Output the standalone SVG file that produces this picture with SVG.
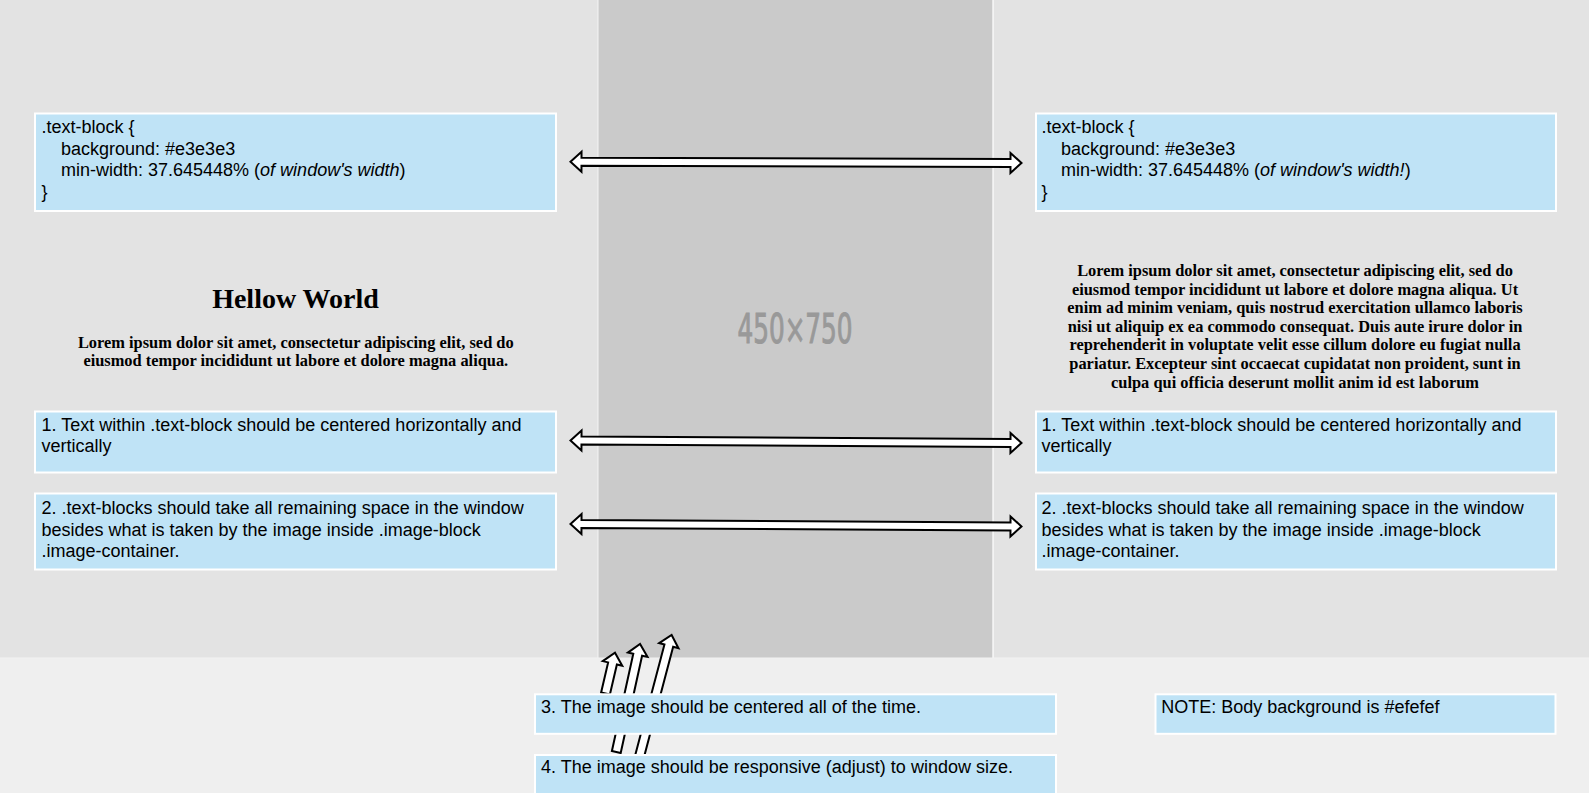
<svg xmlns="http://www.w3.org/2000/svg" width="1589" height="793" viewBox="0 0 1589 793">
<style>
.box{fill:#bfe3f6;stroke:#ffffff;stroke-width:2}
.t{font-family:"Liberation Sans",Arial,sans-serif;font-size:18px;fill:#000}
.s{font-family:"Liberation Serif","Times New Roman",serif;font-weight:bold;fill:#000;text-anchor:middle}
.lorem{font-size:16.4px}
.arr{fill:#ffffff;stroke:#000;stroke-width:2;stroke-linejoin:miter}
</style>
<defs>
<polygon id="dbl" points="0,0 11,-10 11,-4 440,-4 440,-10 451,0 440,10 440,4 11,4 11,10"/>
</defs>
<!-- backgrounds -->
<rect x="0" y="0" width="1589" height="793" fill="#efefef"/>
<rect x="0" y="0" width="598" height="658" fill="#e3e3e3"/>
<rect x="598" y="0" width="395" height="658" fill="#cacaca"/>
<rect x="993" y="0" width="596" height="658" fill="#e3e3e3"/>
<line x1="598" y1="0" x2="598" y2="658" stroke="#f4f4f4" stroke-width="1"/>
<line x1="993" y1="0" x2="993" y2="658" stroke="#ffffff" stroke-width="1.2"/>
<line x1="0" y1="658" x2="1589" y2="658" stroke="#f2f2f2" stroke-width="1"/>
<text x="795" y="342.7" font-family="'DejaVu Sans Condensed','DejaVu Sans',sans-serif" font-size="40" fill="#999999" stroke="#999999" stroke-width="1" text-anchor="middle" textLength="115" lengthAdjust="spacingAndGlyphs">450×750</text>

<g id="content-left">
<text class="s" x="295.5" y="308.3" font-size="28">Hellow World</text>
<text class="s lorem" x="295.8" y="347.5">Lorem ipsum dolor sit amet, consectetur adipiscing elit, sed do</text>
<text class="s lorem" x="295.8" y="366.3">eiusmod tempor incididunt ut labore et dolore magna aliqua.</text>
</g>
<g id="content-right">
<text class="s lorem" x="1295" y="276">Lorem ipsum dolor sit amet, consectetur adipiscing elit, sed do</text>
<text class="s lorem" x="1295" y="294.6">eiusmod tempor incididunt ut labore et dolore magna aliqua. Ut</text>
<text class="s lorem" x="1295" y="313.2">enim ad minim veniam, quis nostrud exercitation ullamco laboris</text>
<text class="s lorem" x="1295" y="331.8">nisi ut aliquip ex ea commodo consequat. Duis aute irure dolor in</text>
<text class="s lorem" x="1295" y="350.4">reprehenderit in voluptate velit esse cillum dolore eu fugiat nulla</text>
<text class="s lorem" x="1295" y="369">pariatur. Excepteur sint occaecat cupidatat non proident, sunt in</text>
<text class="s lorem" x="1295" y="387.6">culpa qui officia deserunt mollit anim id est laborum</text>
</g>

<g id="connectors">
<use href="#dbl" class="arr" transform="translate(570.5,161.7) rotate(0.165)"/>
<use href="#dbl" class="arr" transform="translate(570.5,440.5) rotate(0.318)"/>
<use href="#dbl" class="arr" transform="translate(570.5,524) rotate(0.318)"/>
<polygon class="arr" points="0,-4.5 30.9,-4.5 30.9,-10 41.9,0 30.9,10 30.9,4.5 0,4.5" transform="translate(605.5,693.5) rotate(-76.9)"/>
<polygon class="arr" points="0,-4.5 99.6,-4.5 99.6,-10 110.6,0 99.6,10 99.6,4.5 0,4.5" transform="translate(616.3,752) rotate(-77.6)"/>
<polygon class="arr" points="0,-4.5 139,-4.5 139,-10 150,0 139,10 139,4.5 0,4.5" transform="translate(633.3,780) rotate(-75.2)"/>
</g>

<g id="css-left">
<rect class="box" x="35" y="113.5" width="521" height="97.5"/>
<text class="t" x="41.5" y="133">.text-block {</text>
<text class="t" x="61" y="154.6">background: #e3e3e3</text>
<text class="t" x="61" y="176.2">min-width: 37.645448% (<tspan font-style="italic">of window's width</tspan>)</text>
<text class="t" x="41.5" y="197.8">}</text>
</g>
<g id="css-right">
<rect class="box" x="1036" y="113.5" width="520" height="97.5"/>
<text class="t" x="1041.5" y="133">.text-block {</text>
<text class="t" x="1061" y="154.6">background: #e3e3e3</text>
<text class="t" x="1061" y="176.2">min-width: 37.645448% (<tspan font-style="italic">of window's width!</tspan>)</text>
<text class="t" x="1041.5" y="197.8">}</text>
</g>
<g id="note1-left">
<rect class="box" x="35" y="411.5" width="521" height="61"/>
<text class="t" x="41.5" y="430.8">1. Text within .text-block should be centered horizontally and</text>
<text class="t" x="41.5" y="452.4">vertically</text>
</g>
<g id="note1-right">
<rect class="box" x="1036" y="411.5" width="520" height="61"/>
<text class="t" x="1041.5" y="430.8">1. Text within .text-block should be centered horizontally and</text>
<text class="t" x="1041.5" y="452.4">vertically</text>
</g>
<g id="note2-left">
<rect class="box" x="35" y="493.5" width="521" height="76"/>
<text class="t" x="41.5" y="514.2">2. .text-blocks should take all remaining space in the window</text>
<text class="t" x="41.5" y="535.8">besides what is taken by the image inside .image-block</text>
<text class="t" x="41.5" y="557.4">.image-container.</text>
</g>
<g id="note2-right">
<rect class="box" x="1036" y="493.5" width="520" height="76"/>
<text class="t" x="1041.5" y="514.2">2. .text-blocks should take all remaining space in the window</text>
<text class="t" x="1041.5" y="535.8">besides what is taken by the image inside .image-block</text>
<text class="t" x="1041.5" y="557.4">.image-container.</text>
</g>
<g id="note3">
<rect class="box" x="535" y="694.3" width="521" height="39.5"/>
<text class="t" x="541" y="713.3">3. The image should be centered all of the time.</text>
</g>
<g id="note4">
<rect class="box" x="535" y="755" width="521" height="40"/>
<text class="t" x="541" y="773.3">4. The image should be responsive (adjust) to window size.</text>
</g>
<g id="note-body">
<rect class="box" x="1155.5" y="694.3" width="400" height="39.5"/>
<text class="t" x="1161.3" y="713.3">NOTE: Body background is #efefef</text>
</g>
</svg>
